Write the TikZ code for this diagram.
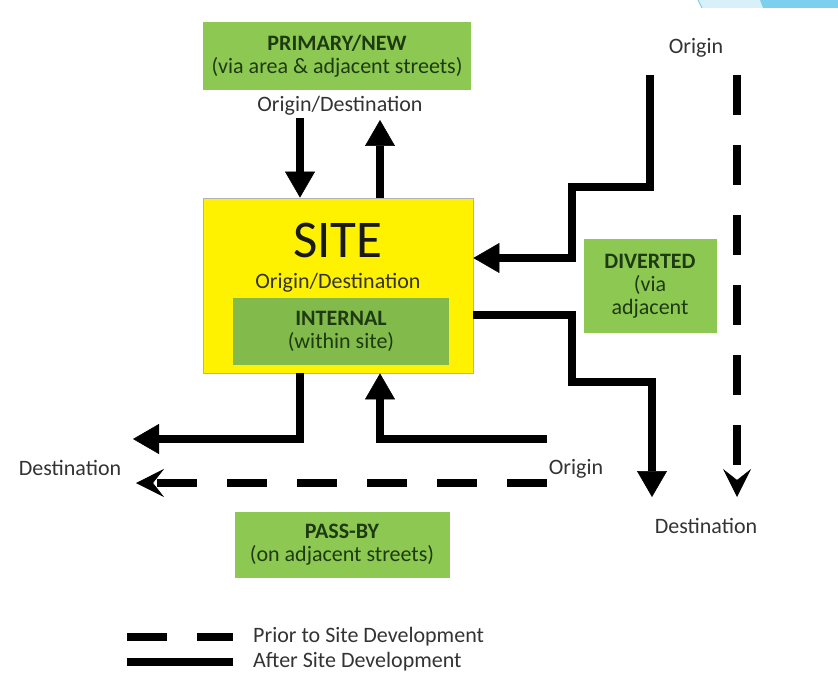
\documentclass[tikz,border=0pt]{standalone}
\usepackage{fontspec}
\setmainfont{Carlito}
\usetikzlibrary{arrows.meta,positioning}
\definecolor{boxgreen}{HTML}{8DC853}
\definecolor{ingreen}{HTML}{82BB4C}
\definecolor{darkgreen}{HTML}{1E3A10}
\definecolor{labelgray}{HTML}{333333}
\definecolor{skyblue}{HTML}{7DCFEE}
\definecolor{paleblue}{HTML}{D8F0FA}
\begin{document}
\begin{tikzpicture}[x=1pt,y=-1pt,
				every node/.style = {font=\fontsize{22}{23}\selectfont},
				green box/.style = {fill=boxgreen, text=darkgreen, align=center, inner sep=0pt},
				label text/.style = {text=labelgray, inner sep=0pt},
				after/.style = {line width=8pt},
				prior/.style = {line width=8pt, dash pattern=on 40pt off 30pt},
				solid tip/.style = {-{Triangle[width=30pt,length=26pt,line width=0.5pt]}},
				open tip/.style = {-{Stealth[width=28pt,length=28pt,inset=11pt,line width=0.5pt]}}]
				
				\useasboundingbox (0,0) rectangle (838,679);
				% corner of the slide
				\fill[paleblue] (698,0) -- (760,0) -- (763,8) -- (702,8) -- cycle;
				\fill[skyblue] (760,0) -- (838,0) -- (838,8) -- (763,8) -- cycle;
				\draw[skyblue, line width=1pt] (698,0) -- (702,8);
				
				\node[green box, minimum width=268pt, minimum height=68pt] (primary) at (337,56) {\textbf{PRIMARY/NEW}\\(via area \& adjacent streets)};
				\node[label text] (primaryod) at (340,106) {Origin/Destination};
				
				\node[fill=yellow, draw=gray!60, line width=0.8pt, minimum width=270pt, minimum height=175pt] (site) at (338,285.5) {};
				\node[label text, text=black!90, font=\fontsize{53}{60}\selectfont] (sitename) at (338,240) {SITE};
				\node[label text] (siteod) at (338,283) {Origin/Destination};
				\node[green box, fill=ingreen, minimum width=216pt, minimum height=67pt] (internal) at (341,331.5) {\textbf{INTERNAL}\\(within site)};
				
				\node[green box, minimum width=133pt, minimum height=93pt] (diverted) at (650,286) {\textbf{DIVERTED}\\(via\\adjacent};
				\node[green box, minimum width=215pt, minimum height=66pt] (passby) at (342,545) {\textbf{PASS-BY}\\(on adjacent streets)};
				
				\node[label text] (orignorth) at (696,48) {Origin};
				\node[label text] (destsouth) at (706,526) {Destination};
				\node[label text] (destwest) at (70,468) {Destination};
				\node[label text] (origeast) at (576,469) {Origin};
				
				\coordinate (pin) at (300,118);
				\coordinate (pout) at (380,120);
				\coordinate (divtop) at (650,75);
				\coordinate (divbend) at (572,187);
				\coordinate (outbend) at (572,382);
				\coordinate (outend) at (652,497);
				\coordinate (divprior) at (737,75);
				\coordinate (divpriorend) at (737,497);
				\coordinate (leftend) at (133,439);
				\coordinate (pbstart) at (547,439);
				\coordinate (pbprior) at (547,483);
				\coordinate (pbpriorend) at (136,483);
				
				% primary / new
				\draw[after, solid tip] (pin) -- (pin |- site.north);
				\draw[after, solid tip] (pout |- site.north) -- (pout);
				% diverted
				\draw[after, solid tip] (divtop) |- (divbend) |- ([yshift=27.5pt]site.east);
				\draw[after, solid tip] ([yshift=-29.5pt]site.east) -| (outbend) -| (outend);
				\draw[prior, open tip] (divprior) -- (divpriorend);
				% pass-by
				\draw[after, solid tip] (pin |- site.south) |- (leftend);
				\draw[after, solid tip] (pbstart) -| (pout |- site.south);
				\draw[prior, open tip] (pbprior) -- (pbpriorend);
				
				% legend
				\node[label text, anchor=west] (priortext) at (253,637) {Prior to Site Development};
				\node[label text, anchor=west] (aftertext) at (253,662) {After Site Development};
				\coordinate (legprior) at (127,637);
				\coordinate (legafter) at (127,662);
				\draw[prior] (legprior) -- ([xshift=-20pt]priortext.west);
				\draw[after] (legafter) -- ([xshift=-20pt]aftertext.west);
\end{tikzpicture}
\end{document}
